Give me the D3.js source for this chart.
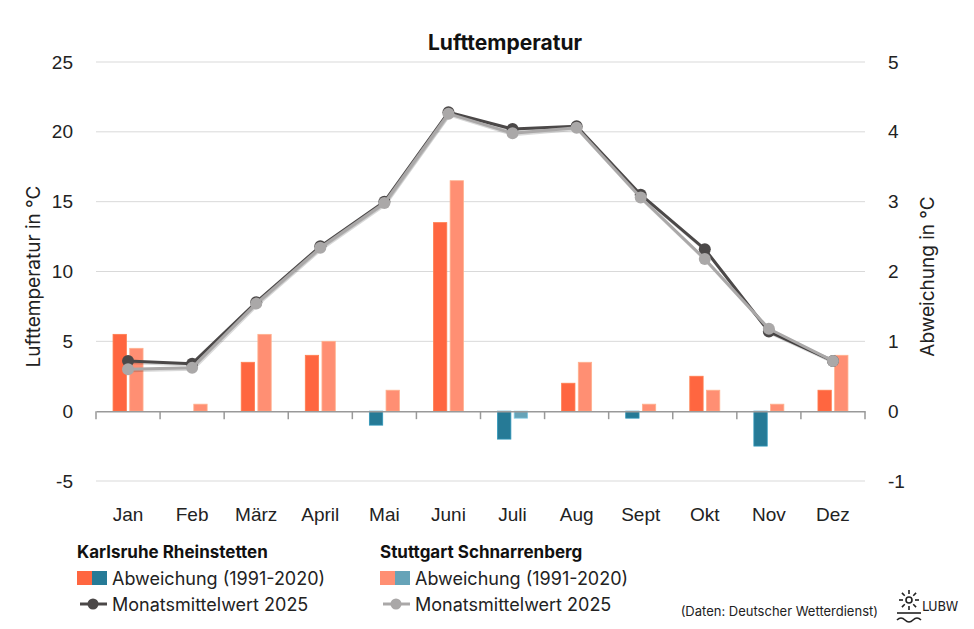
<!DOCTYPE html>
<html>
<head>
<meta charset="utf-8">
<script src="https://cdn.jsdelivr.net/npm/d3@7"></script>
<style>
  body { margin: 0; background: #fff; }
  svg { font-family: Inter, "Noto Sans", sans-serif; }
</style>
</head>
<body>
<div id="chart"></div>
<script>
const width = 974;
const height = 629;

const months = ["Jan", "Feb", "März", "April", "Mai", "Juni", "Juli", "Aug", "Sept", "Okt", "Nov", "Dez"];
// Abweichung (1991-2020), right axis
const devKarlsruhe = [1.1, 0, 0.7, 0.8, -0.2, 2.7, -0.4, 0.4, -0.1, 0.5, -0.5, 0.3];
const devStuttgart = [0.9, 0.1, 1.1, 1.0, 0.3, 3.3, -0.1, 0.7, 0.1, 0.3, 0.1, 0.8];
// Monatsmittelwert 2025, left axis
const meanKarlsruhe = [3.6, 3.4, 7.8, 11.8, 15.0, 21.4, 20.2, 20.4, 15.5, 11.6, 5.7, 3.6];
const meanStuttgart = [3.0, 3.1, 7.7, 11.7, 14.9, 21.3, 19.9, 20.3, 15.3, 10.9, 5.9, 3.6];
const leftTicks = [-5, 0, 5, 10, 15, 20, 25];
const rightTicks = [-1, 0, 1, 2, 3, 4, 5];

const colors = {
  kPos: "#ff6640", kNeg: "#267a96",
  sPos: "#ff8f73", sNeg: "#66a3b8",
  kLine: "#4b4848", sLine: "#aaa8a8"
};

const marginTop = 62;
const marginRight = 109;
const marginBottom = 148;
const marginLeft = 96;

const svg = d3.select("#chart")
  .append("svg")
  .attr("width", width)
  .attr("height", height)
  .attr("viewBox", [0, 0, width, height]);

const x = d3.scaleBand()
  .domain(months)
  .range([marginLeft, width - marginRight])
  .padding(0);

const y = d3.scaleLinear()
  .domain([-5, 25])
  .range([height - marginBottom, marginTop]);

const yR = d3.scaleLinear()
  .domain([-1, 5])
  .range([height - marginBottom, marginTop]);

const xs = d3.scaleBand()
  .domain(["K", "S"])
  .range([x.bandwidth() / 2 - 15, x.bandwidth() / 2 + 15])
  .paddingInner(0.2);

// gridlines
svg.append("g")
  .selectAll("line")
  .data(leftTicks.filter(d => d !== 0))
  .join("line")
    .attr("x1", marginLeft)
    .attr("x2", width - marginRight)
    .attr("y1", d => y(d))
    .attr("y2", d => y(d))
    .attr("stroke", "#d9d9d9")
    .attr("stroke-width", 1);

// left axis labels
svg.append("g")
  .attr("transform", `translate(${marginLeft},0)`)
  .call(d3.axisLeft(y).tickValues(leftTicks).tickSize(0).tickPadding(23).tickFormat(d => String(d)))
  .call(g => g.select(".domain").remove())
  .call(g => g.selectAll("text").attr("font-size", 19).attr("fill", "#222"));

// right axis labels
svg.append("g")
  .attr("transform", `translate(${width - marginRight},0)`)
  .call(d3.axisRight(yR).tickValues(rightTicks).tickSize(0).tickPadding(23).tickFormat(d => String(d)))
  .call(g => g.select(".domain").remove())
  .call(g => g.selectAll("text").attr("font-size", 19).attr("fill", "#222"));

// bars
const bars = months.map((m, i) => [
  {m, key: "K", v: devKarlsruhe[i]},
  {m, key: "S", v: devStuttgart[i]}
]).flat();

function barColor(d) {
  if (d.key === "K") return d.v >= 0 ? colors.kPos : colors.kNeg;
  return d.v >= 0 ? colors.sPos : colors.sNeg;
}

svg.append("g")
  .selectAll("rect")
  .data(bars.filter(d => d.v !== 0))
  .join("rect")
    .attr("x", d => x(d.m) + xs(d.key))
    .attr("y", d => yR(Math.max(0, d.v)))
    .attr("width", xs.bandwidth())
    .attr("height", d => Math.abs(yR(d.v) - yR(0)))
    .attr("fill", barColor)
    .attr("stroke", d => d3.color(barColor(d)).brighter(0.6))
    .attr("stroke-width", 0.8);

// x axis at zero
svg.append("g")
  .attr("transform", `translate(0,${y(0)})`)
  .call(d3.axisBottom(x).tickSize(0).tickFormat(""))
  .call(g => g.select(".domain").attr("stroke", "#999").attr("stroke-width", 1.5))
  .call(g => g.append("g")
    .selectAll("line")
    .data(d3.range(months.length + 1))
    .join("line")
      .attr("x1", i => marginLeft + i * x.step())
      .attr("x2", i => marginLeft + i * x.step())
      .attr("y1", 0)
      .attr("y2", 8)
      .attr("stroke", "#999")
      .attr("stroke-width", 1.5));

// month labels
svg.append("g")
  .attr("transform", `translate(0,${y(-5)})`)
  .call(d3.axisBottom(x).tickSize(0).tickPadding(27))
  .call(g => g.select(".domain").remove())
  .call(g => g.selectAll("text").attr("font-size", 19).attr("fill", "#222"));

// lines
const line = d3.line()
  .x((d, i) => x(months[i]) + x.bandwidth() / 2)
  .y(d => y(d));

function drawSeries(values, color) {
  const g = svg.append("g");
  g.append("path")
    .datum(values)
    .attr("fill", "none")
    .attr("stroke", "rgba(0,0,0,0.15)")
    .attr("stroke-width", 3)
    .attr("transform", "translate(1,1.5)")
    .attr("d", line);
  g.append("path")
    .datum(values)
    .attr("fill", "none")
    .attr("stroke", color)
    .attr("stroke-width", 3)
    .attr("stroke-linejoin", "round")
    .attr("d", line);
  g.selectAll("circle")
    .data(values)
    .join("circle")
      .attr("cx", (d, i) => x(months[i]) + x.bandwidth() / 2)
      .attr("cy", d => y(d))
      .attr("r", 6)
      .attr("fill", color);
}
drawSeries(meanKarlsruhe, colors.kLine);
drawSeries(meanStuttgart, colors.sLine);

// title
svg.append("text")
  .attr("x", 505)
  .attr("y", 50)
  .attr("text-anchor", "middle")
  .attr("font-size", 21)
  .attr("font-weight", "bold")
  .attr("fill", "#111")
  .text("Lufttemperatur");

// axis titles
svg.append("text")
  .attr("transform", `translate(40,${(marginTop + y(-5)) / 2 + 5}) rotate(-90)`)
  .attr("text-anchor", "middle")
  .attr("font-size", 19)
  .attr("fill", "#222")
  .text("Lufttemperatur in °C");

svg.append("text")
  .attr("transform", `translate(934,${(marginTop + y(-5)) / 2 + 5}) rotate(-90)`)
  .attr("text-anchor", "middle")
  .attr("font-size", 19)
  .attr("fill", "#222")
  .text("Abweichung in °C");

// legend
function legend(x0, title, pos, neg, lineColor) {
  const g = svg.append("g");
  g.append("text")
    .attr("x", x0)
    .attr("y", 558)
    .attr("font-size", 17)
    .attr("font-weight", "bold")
    .attr("fill", "#111")
    .text(title);
  g.append("rect").attr("x", x0).attr("y", 571).attr("width", 15).attr("height", 14).attr("fill", pos);
  g.append("rect").attr("x", x0 + 15).attr("y", 571).attr("width", 15).attr("height", 14).attr("fill", neg);
  g.append("text")
    .attr("x", x0 + 35)
    .attr("y", 585)
    .attr("font-size", 18)
    .attr("fill", "#222")
    .text("Abweichung (1991-2020)");
  g.append("line")
    .attr("x1", x0 + 3).attr("x2", x0 + 30)
    .attr("y1", 604).attr("y2", 604)
    .attr("stroke", lineColor).attr("stroke-width", 3);
  g.append("circle").attr("cx", x0 + 16).attr("cy", 604).attr("r", 5.5).attr("fill", lineColor);
  g.append("text")
    .attr("x", x0 + 35)
    .attr("y", 611)
    .attr("font-size", 18)
    .attr("fill", "#222")
    .text("Monatsmittelwert 2025");
}
legend(77, "Karlsruhe Rheinstetten", colors.kPos, colors.kNeg, colors.kLine);
legend(380, "Stuttgart Schnarrenberg", colors.sPos, colors.sNeg, colors.sLine);

// source
svg.append("text")
  .attr("x", 878)
  .attr("y", 616)
  .attr("text-anchor", "end")
  .attr("font-size", 13)
  .attr("fill", "#222")
  .text("(Daten: Deutscher Wetterdienst)");

// logo
const logo = svg.append("g").attr("transform", "translate(909,600)")
  .attr("stroke", "#222").attr("fill", "none").attr("stroke-width", 1.6);
logo.append("circle").attr("cx", 0).attr("cy", 0).attr("r", 3);
[0, 45, 90, 135, 180, 225, 270, 315].forEach(a => {
  const r = a * Math.PI / 180;
  logo.append("line")
    .attr("x1", Math.cos(r) * 6).attr("y1", Math.sin(r) * 6)
    .attr("x2", Math.cos(r) * 10).attr("y2", Math.sin(r) * 10);
});
logo.append("line").attr("x1", -12).attr("x2", 12).attr("y1", 13).attr("y2", 13);
logo.append("path").attr("d", "M-12,20 q4,-4 8,0 t8,0 t8,0");
svg.append("text")
  .attr("x", 922)
  .attr("y", 611)
  .attr("font-size", 14)
  .attr("font-family", "'Liberation Sans Narrow', 'DejaVu Sans Condensed', sans-serif")
  .attr("fill", "#222")
  .text("LUBW");
</script>
</body>
</html>
